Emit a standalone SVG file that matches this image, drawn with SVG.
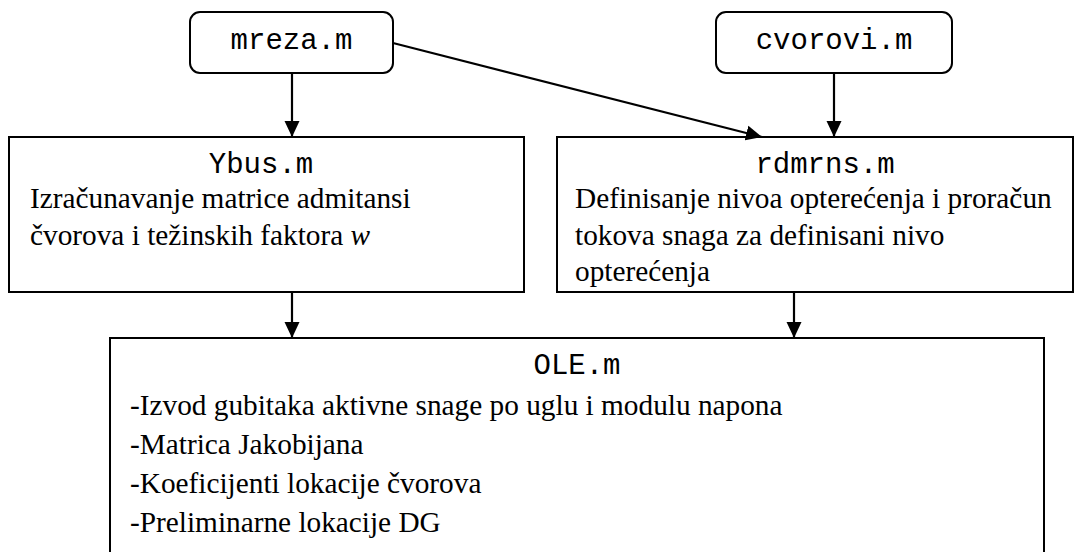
<svg xmlns="http://www.w3.org/2000/svg" width="1083" height="552" viewBox="0 0 1083 552">
<style>
.box{fill:#fff;stroke:#000;stroke-width:2}
.mono{font-family:"Liberation Mono","Courier New",monospace;font-size:29px;fill:#000}
.serif{font-family:"Liberation Serif","Times New Roman",serif;font-size:29.3px;fill:#000}
.conn{stroke:#000;stroke-width:2.2;fill:none;marker-end:url(#arr)}
</style>
<defs>
<marker id="arr" markerUnits="userSpaceOnUse" markerWidth="16" markerHeight="16" refX="16" refY="8" orient="auto">
<path d="M0,0.5 L16,8 L0,15.5 z" fill="#000"/>
</marker>
</defs>
<rect width="1083" height="552" fill="#fff"/>
<g id="mreza">
<rect class="box" x="190" y="12" width="203" height="61" rx="10"/>
<text class="mono" x="291.5" y="49" text-anchor="middle">mreza.m</text>
</g>
<g id="cvorovi">
<rect class="box" x="716" y="12" width="236" height="61" rx="10"/>
<text class="mono" x="834" y="49" text-anchor="middle">cvorovi.m</text>
</g>
<g id="ybus">
<rect class="box" x="9" y="137" width="515" height="155"/>
<text class="mono" x="261" y="173" text-anchor="middle">Ybus.m</text>
<text class="serif" x="30" y="208">Izračunavanje matrice admitansi</text>
<text class="serif" x="30" y="245">čvorova i težinskih faktora <tspan font-style="italic">w</tspan></text>
</g>
<g id="rdmrns">
<rect class="box" x="557" y="137" width="516" height="155"/>
<text class="mono" x="825" y="173" text-anchor="middle">rdmrns.m</text>
<text class="serif" x="575" y="208">Definisanje nivoa opterećenja i proračun</text>
<text class="serif" x="575" y="245">tokova snaga za definisani nivo</text>
<text class="serif" x="575" y="281">opterećenja</text>
</g>
<g id="ole">
<rect class="box" x="110" y="338" width="934" height="240"/>
<text class="mono" x="577" y="374" text-anchor="middle">OLE.m</text>
<text class="serif" x="130" y="415">-Izvod gubitaka aktivne snage po uglu i modulu napona</text>
<text class="serif" x="130" y="454">-Matrica Jakobijana</text>
<text class="serif" x="130" y="493">-Koeficijenti lokacije čvorova</text>
<text class="serif" x="130" y="532">-Preliminarne lokacije DG</text>
</g>
<g id="connectors">
<line class="conn" x1="292" y1="73" x2="292" y2="137"/>
<line class="conn" x1="834" y1="73" x2="834" y2="137"/>
<line class="conn" x1="393" y1="43" x2="762" y2="137"/>
<line class="conn" x1="292" y1="292" x2="292" y2="338"/>
<line class="conn" x1="794" y1="292" x2="794" y2="338"/>
</g>
</svg>
